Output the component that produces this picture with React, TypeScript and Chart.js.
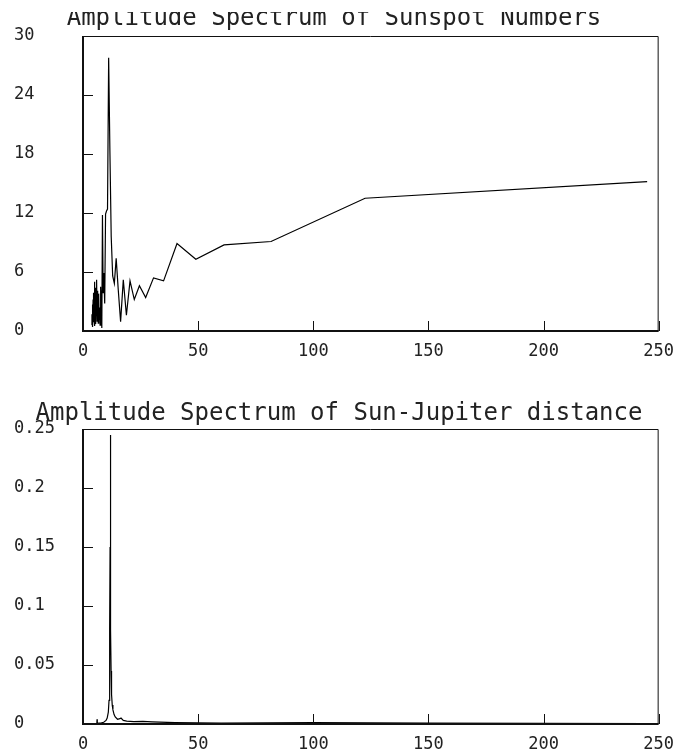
import React, { useEffect, useRef } from "react";
import { Chart, registerables } from "chart.js";

Chart.register(...registerables);

// ---------- data ----------
const sunspotPeriods = [
  245, 122.5, 81.67, 61.25, 49, 40.83, 35, 30.63, 27.22, 24.5,
  22.27, 20.42, 18.85, 17.5, 16.33, 15.31, 14.41, 13.61, 12.89, 12.25,
  11.67, 11.14, 10.65, 10.21, 9.8, 9.42, 9.07, 8.75, 8.45, 8.17,
  7.9, 7.66, 7.42, 7.21, 7, 6.81, 6.62, 6.45, 6.28, 6.13,
  5.98, 5.83, 5.7, 5.57, 5.44, 5.33, 5.21, 5.1, 5, 4.9,
  4.8, 4.71, 4.62, 4.54, 4.45, 4.38, 4.3, 4.22, 4.15, 4.08,
  4.02, 3.95, 3.89, 3.83,
];
const sunspotAmplitude = [
  15.2, 13.5, 9.1, 8.75, 7.3, 8.9, 5.1, 5.4, 3.4, 4.6,
  3.2, 5.1, 1.6, 5.2, 0.95, 4.2, 7.4, 4.85, 5.6, 9.6,
  18.5, 27.8, 12.4, 12.2, 11.9, 2.8, 5.9, 3.9, 11.8, 0.3,
  3.0, 4.5, 0.6, 2.4, 1.2, 3.8, 0.8, 2.1, 4.1, 1.0,
  5.2, 2.0, 3.4, 0.7, 4.4, 1.9, 3.0, 0.5, 2.6, 5.0,
  1.4, 3.9, 0.9, 2.2, 1.5, 3.2, 0.4, 1.8, 2.7, 0.8,
  2.3, 1.1, 1.7, 0.6,
];

const jupiterPeriods = [
  6.0, 6.1, 6.2, 7, 8, 9, 10, 10.5, 11, 11.3,
  11.5, 11.65, 11.76, 11.86, 11.96, 12.07, 12.2, 12.4, 12.7, 13,
  13.5, 14, 15, 16, 16.5, 17.5, 19, 22, 26, 30,
  40, 60, 100, 150, 200, 245,
];
const jupiterAmplitude = [
  0.0, 0.004, 0.0005, 0.0008, 0.001, 0.0015, 0.003, 0.005, 0.01, 0.02,
  0.04, 0.08, 0.15, 0.245, 0.15, 0.08, 0.045, 0.025, 0.016, 0.012,
  0.008, 0.006, 0.004, 0.0045, 0.005, 0.003, 0.0025, 0.002, 0.0022, 0.0018,
  0.0012, 0.0008, 0.0012, 0.0008, 0.0005, 0.0003,
];

const xTicks = [0, 50, 100, 150, 200, 250];
const sunspotYTicks = [0, 6, 12, 18, 24, 30];
const jupiterYTicks = [0, 0.05, 0.1, 0.15, 0.2, 0.25];

const sunspotTitle = "Amplitude Spectrum of Sunspot Numbers";
const jupiterTitle = "Amplitude Spectrum of Sun-Jupiter distance";

// ---------- chart helpers ----------
const FONT = "'DejaVu Sans Mono', 'Liberation Mono', monospace";
const TEXT_COLOR = "#222";

type PanelCfg = {
  periods: number[];
  values: number[];
  yMax: number;
  yTicks: number[];
  title: string;
  titleX: number;
  titleBaseline: number;
  titleClipTop: number | null;
  padTop: number;
  xAxisHeight: number;
};

function framePlugin(cfg: PanelCfg) {
  return {
    id: "frameAndTitle",
    afterDraw(chart: any) {
      const { ctx, chartArea: a, scales } = chart;
      ctx.save();
      ctx.strokeStyle = "#111";
      // left & bottom axes (heavier)
      ctx.lineWidth = 2;
      ctx.beginPath();
      ctx.moveTo(a.left, a.top);
      ctx.lineTo(a.left, a.bottom);
      ctx.lineTo(a.right, a.bottom);
      ctx.stroke();
      // top & right
      ctx.lineWidth = 1;
      ctx.beginPath();
      ctx.moveTo(a.left, a.top + 0.5);
      ctx.lineTo(a.right - 0.5, a.top + 0.5);
      ctx.lineTo(a.right - 0.5, a.bottom);
      ctx.stroke();
      // inward tick marks
      ctx.beginPath();
      for (const t of scales.x.ticks) {
        const px = Math.round(scales.x.getPixelForValue(t.value)) + 0.5;
        ctx.moveTo(px, a.bottom);
        ctx.lineTo(px, a.bottom - 10);
      }
      for (const t of scales.y.ticks) {
        const py = Math.round(scales.y.getPixelForValue(t.value)) + 0.5;
        ctx.moveTo(a.left, py);
        ctx.lineTo(a.left + 10, py);
      }
      ctx.stroke();
      // title
      if (cfg.titleClipTop !== null) {
        ctx.beginPath();
        ctx.rect(0, cfg.titleClipTop, chart.width, chart.height);
        ctx.clip();
      }
      ctx.fillStyle = TEXT_COLOR;
      ctx.font = `24px ${FONT}`;
      ctx.textAlign = "center";
      ctx.textBaseline = "alphabetic";
      ctx.fillText(cfg.title, cfg.titleX, cfg.titleBaseline);
      ctx.restore();
    },
  };
}

function Panel({ cfg, width, height }: { cfg: PanelCfg; width: number; height: number }) {
  const ref = useRef<HTMLCanvasElement | null>(null);
  useEffect(() => {
    if (!ref.current) return;
    const points = cfg.periods
      .map((p, i) => ({ x: p, y: cfg.values[i] }))
      .sort((a, b) => a.x - b.x);
    const chart = new Chart(ref.current, {
      type: "line",
      data: {
        datasets: [
          {
            data: points,
            borderColor: "#000",
            borderWidth: 1.2,
            pointRadius: 0,
            fill: false,
            tension: 0,
          },
        ],
      },
      options: {
        responsive: false,
        maintainAspectRatio: false,
        animation: false,
        devicePixelRatio: 1,
        layout: { padding: { left: 14, right: 25, top: cfg.padTop, bottom: 0 } },
        plugins: {
          legend: { display: false },
          title: { display: false },
          tooltip: { enabled: false },
        },
        scales: {
          x: {
            type: "linear",
            min: 0,
            max: 250,
            grid: { display: false, drawTicks: false },
            border: { display: false },
            afterBuildTicks: (s: any) => {
              s.ticks = xTicks.map((v) => ({ value: v }));
            },
            afterFit: (s: any) => {
              s.height = cfg.xAxisHeight;
            },
            ticks: {
              autoSkip: false,
              maxRotation: 0,
              padding: 10,
              color: TEXT_COLOR,
              font: { family: FONT, size: 17 },
              callback: (v: any) => String(v),
            },
          },
          y: {
            type: "linear",
            min: 0,
            max: cfg.yMax,
            grid: { display: false, drawTicks: false },
            border: { display: false },
            afterBuildTicks: (s: any) => {
              s.ticks = cfg.yTicks.map((v) => ({ value: v }));
            },
            afterFit: (s: any) => {
              s.width = 69;
            },
            ticks: {
              autoSkip: false,
              crossAlign: "far",
              color: TEXT_COLOR,
              font: { family: FONT, size: 17 },
              callback: (v: any) => String(v),
            },
          },
        },
      } as any,
      plugins: [framePlugin(cfg)],
    });
    return () => chart.destroy();
  }, [cfg]);
  return <canvas ref={ref} width={width} height={height} style={{ display: "block", width, height }} />;
}

const topCfg: PanelCfg = {
  periods: sunspotPeriods,
  values: sunspotAmplitude,
  yMax: 30,
  yTicks: sunspotYTicks,
  title: sunspotTitle,
  titleX: 334,
  titleBaseline: 25,
  titleClipTop: 12,
  padTop: 36,
  xAxisHeight: 47,
};

const bottomCfg: PanelCfg = {
  periods: jupiterPeriods,
  values: jupiterAmplitude,
  yMax: 0.25,
  yTicks: jupiterYTicks,
  title: jupiterTitle,
  titleX: 339,
  titleBaseline: 42,
  titleClipTop: null,
  padTop: 51,
  xAxisHeight: 31,
};

export default function App() {
  return (
    <div
      style={{
        position: "absolute",
        left: 0,
        top: 0,
        width: 684,
        height: 755,
        background: "#fff",
        overflow: "hidden",
      }}
    >
      <Panel cfg={topCfg} width={684} height={378} />
      <Panel cfg={bottomCfg} width={684} height={377} />
    </div>
  );
}
